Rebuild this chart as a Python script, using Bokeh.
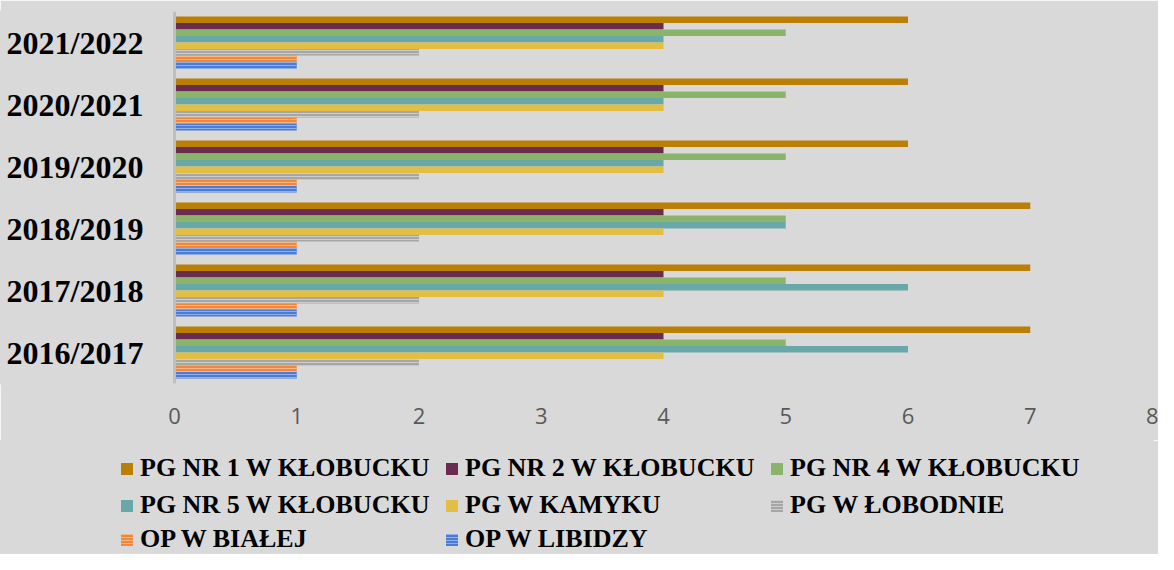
from bokeh.plotting import figure
from bokeh.layouts import column
from bokeh.models import (FactorRange, Range1d, Legend, LegendItem, FixedTicker,
                          ColumnDataSource, Span)
from bokeh.transform import dodge
from bokeh.core.properties import value
from bokeh.embed import file_html
from bokeh.resources import INLINE

# ---- data ----
years = ["2016/2017", "2017/2018", "2018/2019", "2019/2020", "2020/2021", "2021/2022"]
series_names = [
    "PG NR 1 W KŁOBUCKU",
    "PG NR 2 W KŁOBUCKU",
    "PG NR 4 W KŁOBUCKU",
    "PG NR 5 W KŁOBUCKU",
    "PG W KAMYKU",
    "PG W ŁOBODNIE",
    "OP W BIAŁEJ",
    "OP W LIBIDZY",
]
pg_nr1 = [7, 7, 7, 6, 6, 6]
pg_nr2 = [4, 4, 4, 4, 4, 4]
pg_nr4 = [5, 5, 5, 5, 5, 5]
pg_nr5 = [6, 6, 5, 4, 4, 4]
pg_kamyk = [4, 4, 4, 4, 4, 4]
pg_lobodno = [2, 2, 2, 2, 2, 2]
op_biala = [1, 1, 1, 1, 1, 1]
op_libidza = [1, 1, 1, 1, 1, 1]
x_ticks = [0, 1, 2, 3, 4, 5, 6, 7, 8]

series_values = [pg_nr1, pg_nr2, pg_nr4, pg_nr5, pg_kamyk, pg_lobodno, op_biala, op_libidza]

# ---- styles / layout ----
colors = ["#BA7F04", "#6A2C4E", "#89B46A", "#69A8A9", "#E2BE45", "#A6A6A6", "#F0883C", "#4C7BD3"]
hatch_colors = [None, None, None, None, None, "#CDCDCD", "#F8B686", "#8FB0EA"]
BG = "#D9D9D9"
W = 1158
AXIS_PX = 174           # pixel position of value 0
RIGHT_PAD = 6
X_MAX = 8
px_per_unit = (W - RIGHT_PAD - AXIS_PX) / X_MAX
x_start = -AXIS_PX / px_per_unit


def bar_style(i):
    kw = dict(fill_color=colors[i], line_color=None)
    if hatch_colors[i]:
        kw.update(hatch_pattern="horizontal_line", hatch_color=hatch_colors[i],
                  hatch_scale=3, hatch_weight=1)
    return kw


data = {"year": years}
for i, vals in enumerate(series_values):
    data["s%d" % i] = vals
src = ColumnDataSource(data)

p = figure(
    y_range=FactorRange(factors=years),
    x_range=Range1d(x_start, X_MAX),
    width=W, height=440,
    min_border_left=0, min_border_right=RIGHT_PAD, min_border_top=11, min_border_bottom=57,
    output_backend="svg", toolbar_location=None,
)
p.background_fill_color = BG
p.border_fill_color = BG
p.outline_line_color = BG
p.outline_line_width = 2
p.xgrid.visible = False
p.ygrid.visible = False
p.yaxis.visible = False

bar_h = 0.105
for i in range(8):
    off = (3.5 - i) * bar_h
    p.hbar(y=dodge("year", off, range=p.y_range), left=0, right="s%d" % i,
           height=bar_h, source=src, **bar_style(i))

# vertical axis line at value 0
p.add_layout(Span(location=0, dimension="height", line_color="#BFBFBF", line_width=3))

# category labels
p.text(x=0, y="year", text="year", source=src, x_offset=-31,
       text_align="right", text_baseline="middle",
       text_font=value("Liberation Serif"), text_font_style="bold",
       text_font_size="32px", text_color="#000000")

# x axis
p.xaxis.ticker = FixedTicker(ticks=x_ticks)
p.xaxis.axis_line_color = None
p.xaxis.major_tick_line_color = None
p.xaxis.minor_tick_line_color = None
p.xaxis.major_tick_out = 0
p.xaxis.major_tick_in = 0
p.xaxis.major_label_standoff = 24
p.xaxis.major_label_text_font = "Open Sans"
p.xaxis.major_label_text_font_size = "22px"
p.xaxis.major_label_text_color = "#595959"

# ---- legend panel (second figure under the chart) ----
lg = figure(
    width=W, height=114,
    x_range=Range1d(0, 1), y_range=Range1d(0, 1),
    x_axis_type=None, y_axis_type=None,
    min_border_left=0, min_border_right=RIGHT_PAD, min_border_top=0, min_border_bottom=0,
    output_backend="svg", toolbar_location=None,
)
lg.background_fill_color = BG
lg.border_fill_color = BG
lg.outline_line_color = BG
lg.outline_line_width = 2
lg.xgrid.visible = False
lg.ygrid.visible = False

hidden = ColumnDataSource(dict(y=[-10], right=[0]))
col_x = [119, 444, 769]
row_y = [71, 34, 0]
for i, name in enumerate(series_names):
    r = lg.hbar(y="y", right="right", left=0, height=0.1, source=hidden, **bar_style(i))
    row, col = divmod(i, 3)
    leg = Legend(
        items=[LegendItem(label=name, renderers=[r])],
        location=(col_x[col], row_y[row]),
        padding=0, margin=0, spacing=0,
        border_line_color=None, background_fill_alpha=0,
        glyph_width=15, glyph_height=15, label_standoff=6, label_height=28,
        label_text_font="Liberation Serif", label_text_font_style="bold",
        label_text_font_size="26px", label_text_color="#000000",
    )
    lg.add_layout(leg)

layout = column(p, lg, spacing=0)
open("out.html", "w").write(file_html(layout, INLINE))
